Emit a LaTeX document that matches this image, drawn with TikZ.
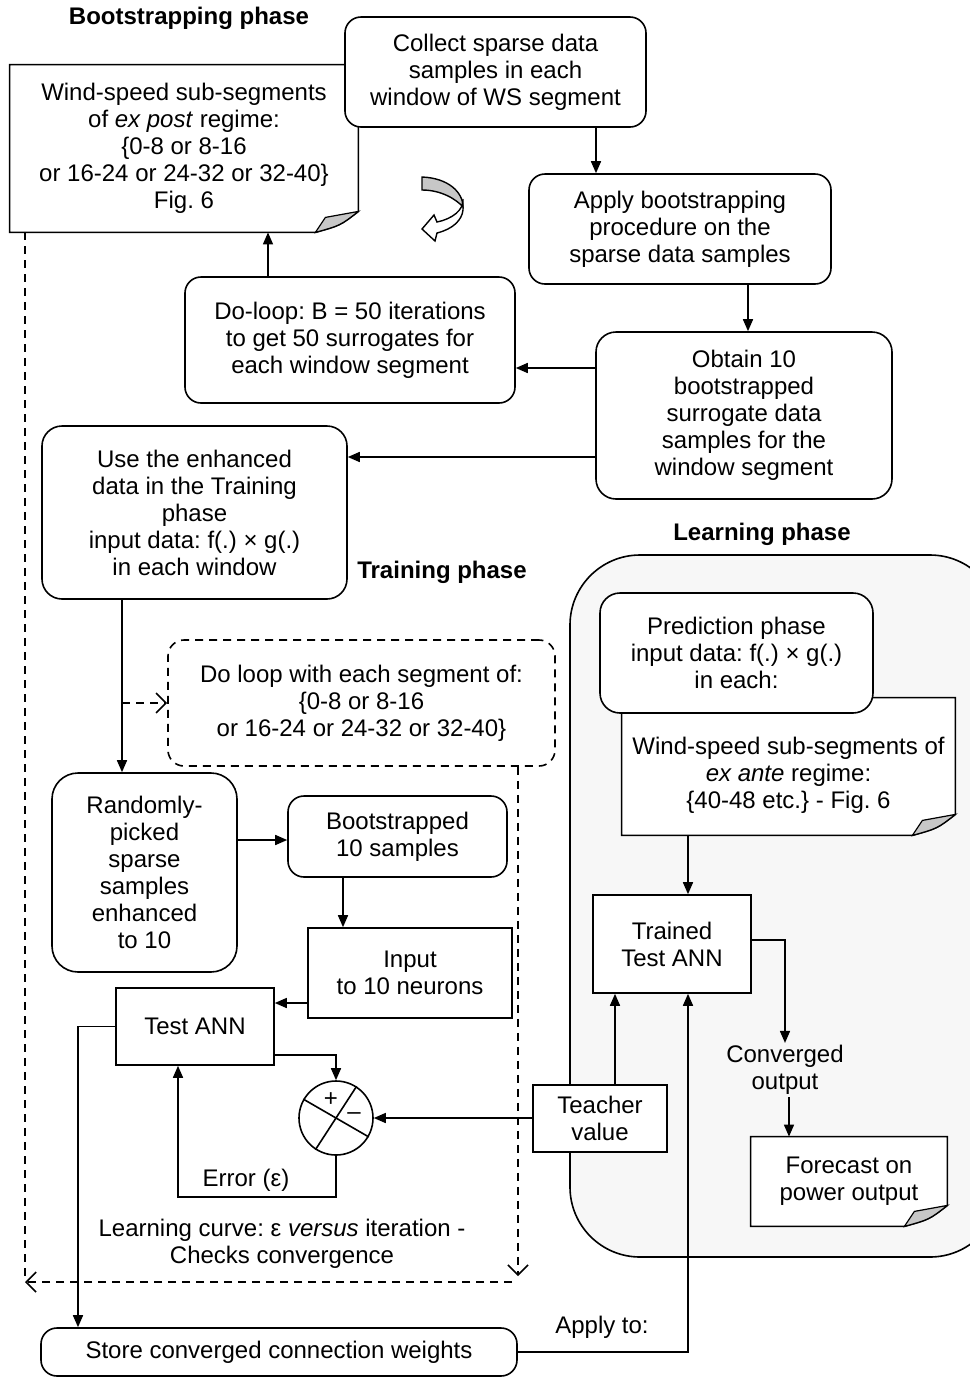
\documentclass[tikz,border=0pt]{standalone}
\usepackage{fontspec}
\setmainfont{Liberation Sans}
\usetikzlibrary{arrows.meta,positioning}
\pgfdeclarelayer{background}
\pgfsetlayers{background,main}
\frenchspacing

% outline of a document node with a curled corner (optional arg: extra height on top)
\newcommand{\docframe}[2][0pt]{%
  \draw[line width=0.8pt, fill=white] ([yshift=#1]#2.north west) -- ([yshift=#1]#2.north east) -- ([yshift=10.5pt]#2.south east)
    .. controls ([xshift=-9pt,yshift=3.5pt]#2.south east) .. ([xshift=-21.5pt]#2.south east) -- (#2.south west) -- cycle;
  \draw[line width=0.6pt, fill=black!22] ([xshift=-21.5pt]#2.south east) -- ([xshift=-16.5pt,yshift=7.5pt]#2.south east)
    -- ([yshift=10.5pt]#2.south east) .. controls ([xshift=-9pt,yshift=3.5pt]#2.south east) .. ([xshift=-21.5pt]#2.south east) -- cycle;
}

\begin{document}
\begin{tikzpicture}[x=0.5pt, y=-0.5pt,
    font=\fontsize{12}{13.5}\selectfont,
    box/.style={draw, line width=0.8pt, rounded corners=8pt, fill=white, align=center, inner sep=1pt},
    sqbox/.style={box, rounded corners=0pt},
    docbox/.style={align=center, inner sep=1pt},
    title/.style={font=\fontsize{12}{13.5}\selectfont\bfseries},
    arr/.style={-{Triangle[length=6pt,width=5pt]}, line width=0.8pt},
    dashline/.style={dash pattern=on 4pt off 3pt, line width=0.8pt},
    dasharr/.style={dashline, -{Straight Barb[length=5pt,width=10pt]}}]

  \useasboundingbox (0,0) rectangle (970,1378);

  % learning phase area
  \begin{pgfonlayer}{background}
    \draw[line width=0.8pt, fill=black!3, rounded corners=35pt] (570,555) rectangle (1000,1257);
  \end{pgfonlayer}

  % titles
  \node[title] (ttlboot) at (189,18) {Bootstrapping phase};
  \node[title] (ttltrain) at (442,572) {Training phase};
  \node[title] (ttllearn) at (762,534) {Learning phase};

  % bootstrapping phase
  \node[docbox, minimum width=174pt, minimum height=83.5pt] (wsexpost) at (184,148.5)
    {Wind-speed sub-segments\\of \textit{ex post} regime:\\\{0-8 or 8-16\\or 16-24 or 24-32 or 32-40\}\\Fig. 6};
  \node[box, minimum width=150.5pt, minimum height=55pt] (collect) at (495.5,72)
    {Collect sparse data\\samples in each\\window of WS segment};
  \node[box, minimum width=151pt, minimum height=55pt] (apply) at (680,229)
    {Apply bootstrapping\\procedure on the\\sparse data samples};
  \node[box, rounded corners=10pt, minimum width=148pt, minimum height=83.5pt] (obtain) at (744,415.5)
    {Obtain 10\\bootstrapped\\surrogate data\\samples for the\\window segment};
  \node[box, minimum width=165pt, minimum height=63pt] (doloopB) at (350,340)
    {Do-loop: B = 50 iterations\\to get 50 surrogates for\\each window segment};
  \node[box, rounded corners=10pt, minimum width=152.5pt, minimum height=86.5pt] (use) at (194.5,512.5)
    {Use the enhanced\\data in the Training\\phase\\input data: f(.) × g(.)\\in each window};

  % turning arrow
  \draw[line width=0.7pt, fill=black!22] (422,177) .. controls (448,178) and (463,192) .. (463,207)
    .. controls (456,199) and (441,190) .. (422,190) -- cycle;
  \draw[line width=0.7pt, fill=white] (463,199) .. controls (464,210) and (452,219) .. (437,222)
    -- (434,215) -- (422,229) -- (435,241) -- (437,233)
    .. controls (453,229) and (462,220) .. (463,210) -- cycle;

  % training phase
  \node[box, dashline, minimum width=193.5pt, minimum height=63pt] (doseg) at (361.5,703)
    {Do loop with each segment of:\\\{0-8 or 8-16\\or 16-24 or 24-32 or 32-40\}};
  \node[box, rounded corners=13pt, minimum width=92.5pt, minimum height=99.5pt] (randpick) at (144.5,872.5)
    {Randomly-\\picked\\sparse\\samples\\enhanced\\to 10};
  \node[box, minimum width=109.5pt, minimum height=40.5pt] (boot10) at (397.5,836.5)
    {Bootstrapped\\10 samples};
  \node[sqbox, minimum width=102pt, minimum height=45pt] (input) at (410,973)
    {Input\\to 10 neurons};
  \node[sqbox, minimum width=79pt, minimum height=38.5pt] (testann) at (195,1026.5) {Test ANN};
  \node[draw, circle, line width=0.8pt, minimum size=37pt, inner sep=0pt] (sum) at (336,1118) {};
  \draw[line width=0.8pt] (sum.150) -- (sum.330) (sum.57) -- (sum.237);
  \node[inner sep=0pt] (plus) at (331,1100) {+};
  \node[inner sep=0pt] (minus) at (354,1116) {–};
  \node[sqbox, minimum width=67pt, minimum height=33.5pt] (teacher) at (600,1118.5) {Teacher\\value};
  \node (errlbl) at (246,1180) {Error (ε)};
  \node[align=center] (lcurve) at (282,1244) {Learning curve: ε \textit{versus} iteration -\\Checks convergence};
  \node[box, minimum width=238pt, minimum height=24pt] (store) at (279,1352) {Store converged connection weights};
  \node (applylbl) at (602,1327) {Apply to:};

  % learning phase
  \node[docbox, minimum width=166.5pt, minimum height=59.5pt] (wsexante) at (788.5,775.5)
    {Wind-speed sub-segments of\\\textit{ex ante} regime:\\\{40-48 etc.\} - Fig. 6};
  \node[box, rounded corners=10pt, minimum width=136.5pt, minimum height=60pt] (predict) at (736.5,653)
    {Prediction phase\\input data: f(.) × g(.)\\in each:};
  \node[sqbox, minimum width=79pt, minimum height=49pt] (trained) at (672,944) {Trained\\Test ANN};
  \node[align=center, inner sep=1pt] (convout) at (785,1070) {Converged\\output};
  \node[docbox, minimum width=98pt, minimum height=44.5pt] (forecast) at (849,1181.5)
    {Forecast on\\power output};

  \begin{pgfonlayer}{background}
    \docframe{wsexpost}
    \docframe[9pt]{wsexante}
    \docframe{forecast}
  \end{pgfonlayer}

  % helper coordinates for the connectors
  \coordinate (x25) at (25,0);   \coordinate (x78) at (78,0);
  \coordinate (x122) at (122,0); \coordinate (x178) at (178,0);
  \coordinate (x268) at (268,0); \coordinate (x343) at (343,0);
  \coordinate (x518) at (518,0); \coordinate (x596) at (596,0);
  \coordinate (x615) at (615,0); \coordinate (x688) at (688,0);
  \coordinate (x748) at (748,0); \coordinate (x785) at (785,0);
  \coordinate (x789) at (789,0);
  \coordinate (y368) at (0,368); \coordinate (y457) at (0,457);
  \coordinate (y840) at (0,840); \coordinate (y940) at (0,940);
  \coordinate (y1003) at (0,1003); \coordinate (y1055) at (0,1055);
  \coordinate (errcorner) at (178,1197);
  \coordinate (dashend) at (518,1276);
  \coordinate (dashright) at (512,1282);
  \coordinate (dashleft) at (25,1282);

  % connectors
  \draw[arr] (collect.south -| x596) -- (apply.north -| x596);
  \draw[arr] (apply.south -| x748) -- (obtain.north -| x748);
  \draw[arr] (obtain.west |- y368) -- (doloopB.east |- y368);
  \draw[arr] (doloopB.north -| x268) -- (wsexpost.south -| x268);
  \draw[arr] (obtain.west |- y457) -- (use.east |- y457);
  \draw[arr] (use.south -| x122) -- (randpick.north -| x122);
  \draw[dasharr] (x122 |- doseg.west) -- (doseg.west);
  \draw[arr] (randpick.east |- y840) -- (boot10.west |- y840);
  \draw[arr] (boot10.south -| x343) -- (input.north -| x343);
  \draw[arr] (input.west |- y1003) -- (testann.east |- y1003);
  \draw[arr] (testann.east |- y1055) -| (sum.north);
  \draw[arr] (teacher.west |- sum.east) -- (sum.east);
  \draw[arr] (sum.south) |- (errcorner) -- (testann.south -| errcorner);
  \draw[arr] (testann.west) -| (store.north -| x78);
  \draw[arr] (store.east) -| (trained.south -| x688);
  \draw[arr] (teacher.north -| x615) -- (trained.south -| x615);
  \draw[arr] (wsexante.south -| x688) -- (trained.north -| x688);
  \draw[arr] (trained.east |- y940) -| (convout.north -| x785);
  \draw[arr] (convout.south -| x789) -- (forecast.north -| x789);

  % dashed feedback of the segment loop
  \draw[dasharr] (doseg.south -| x518) -- (dashend);
  \draw[dasharr] (dashright) -- (dashleft);
  \draw[dashline] (wsexpost.south -| x25) -- (dashleft);
\end{tikzpicture}
\end{document}
